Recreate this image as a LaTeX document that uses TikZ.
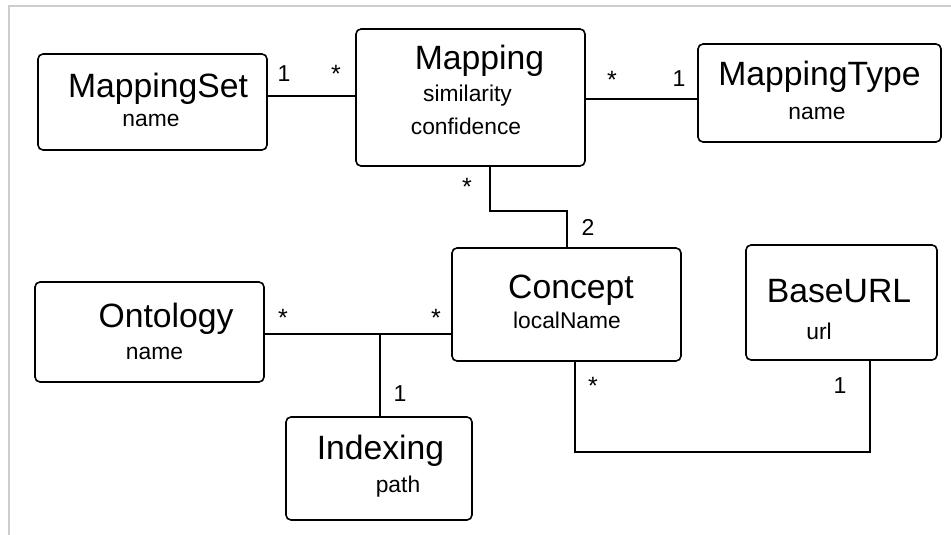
\documentclass[tikz,border=0pt]{standalone}
\usepackage{fontspec}
\setmainfont{Liberation Sans}
\definecolor{framegray}{HTML}{CDCDCD}
\begin{document}
\begin{tikzpicture}[x=1pt,y=-1pt,
  box/.style={draw=black, line width=1.6pt, rounded corners=5pt, inner sep=0pt, fill=white},
  ttl/.style={anchor=base, inner sep=0pt, font=\fontsize{33.7}{38}\selectfont},
  attr/.style={anchor=base, inner sep=0pt, font=\fontsize{22.8}{26}\selectfont},
  mult/.style={anchor=center, inner sep=0pt, font=\fontsize{23}{26}\selectfont},
  star/.style={anchor=center, inner sep=0pt, font=\fontsize{25}{28}\selectfont},
  conn/.style={draw=black, line width=1.8pt}]
\useasboundingbox (0,0) rectangle (951,535);
\fill[white] (0,0) rectangle (951,535);
% frame
\draw[framegray, line width=2pt] (9,535) -- (9,6) -- (951,6);
% boxes
\node[box, minimum width=229pt, minimum height=96pt] (ms) at (152.5,102) {};
\node[box, minimum width=229pt, minimum height=137pt] (m) at (470.5,97.5) {};
\node[box, minimum width=243pt, minimum height=98pt] (mt) at (819.5,93) {};
\node[box, minimum width=229pt, minimum height=113pt] (c) at (566.5,304.5) {};
\node[box, minimum width=191pt, minimum height=115pt] (bu) at (841.5,302.5) {};
\node[box, minimum width=229pt, minimum height=100pt] (o) at (149.5,332) {};
\node[box, minimum width=186pt, minimum height=103pt] (ix) at (379,468.5) {};
% texts
\node[ttl] (msT) at (158,97) {MappingSet};
\node[attr] (msA) at (151,126.5) {name};
\node[ttl] (mT) at (479.5,70) {Mapping};
\node[attr] (mA1) at (467.5,102) {similarity};
\node[attr] (mA2) at (466,134.5) {confidence};
\node[ttl] (mtT) at (819.5,85) {MappingType};
\node[attr] (mtA) at (817,119) {name};
\node[ttl] (cT) at (571,298) {Concept};
\node[attr] (cA) at (567,328) {localName};
\node[ttl] (buT) at (839,302) {BaseURL};
\node[attr] (buA) at (819,339) {url};
\node[ttl] (oT) at (166,327) {Ontology};
\node[attr] (oA) at (154.5,359) {name};
\node[ttl] (ixT) at (380.5,459) {Indexing};
\node[attr] (ixA) at (398,492) {path};
% connectors
\draw[conn] (ms.east |- 0,96) -- (m.west |- 0,96);
\draw[conn] (m.east |- 0,99) -- (mt.west |- 0,99);
\coordinate (mc1) at (490,211);
\coordinate (mc2) at (567,211);
\draw[conn] (m.south -| mc1) -- (mc1) -- (mc2) -- (c.north -| mc2);
\coordinate (oc) at (380,334);
\draw[conn] (o.east |- oc) -- (c.west |- oc);
\draw[conn] (oc) -- (ix.north -| oc);
\coordinate (cb1) at (575,452);
\coordinate (cb2) at (870,452);
\draw[conn] (c.south -| cb1) -- (cb1) -- (cb2) -- (bu.south -| cb2);
% multiplicities
\node[mult] (l1) at (284,73.5) {1};
\node[star] (l2) at (336,74) {*};
\node[star] (l3) at (612,79.5) {*};
\node[mult] (l4) at (679,79) {1};
\node[star] (l5) at (467,187) {*};
\node[mult] (l6) at (588,227) {2};
\node[star] (l7) at (283,317.5) {*};
\node[star] (l8) at (436,317.5) {*};
\node[mult] (l9) at (400,394) {1};
\node[star] (l10) at (593,386) {*};
\node[mult] (l11) at (840,385.5) {1};
\end{tikzpicture}
\end{document}
